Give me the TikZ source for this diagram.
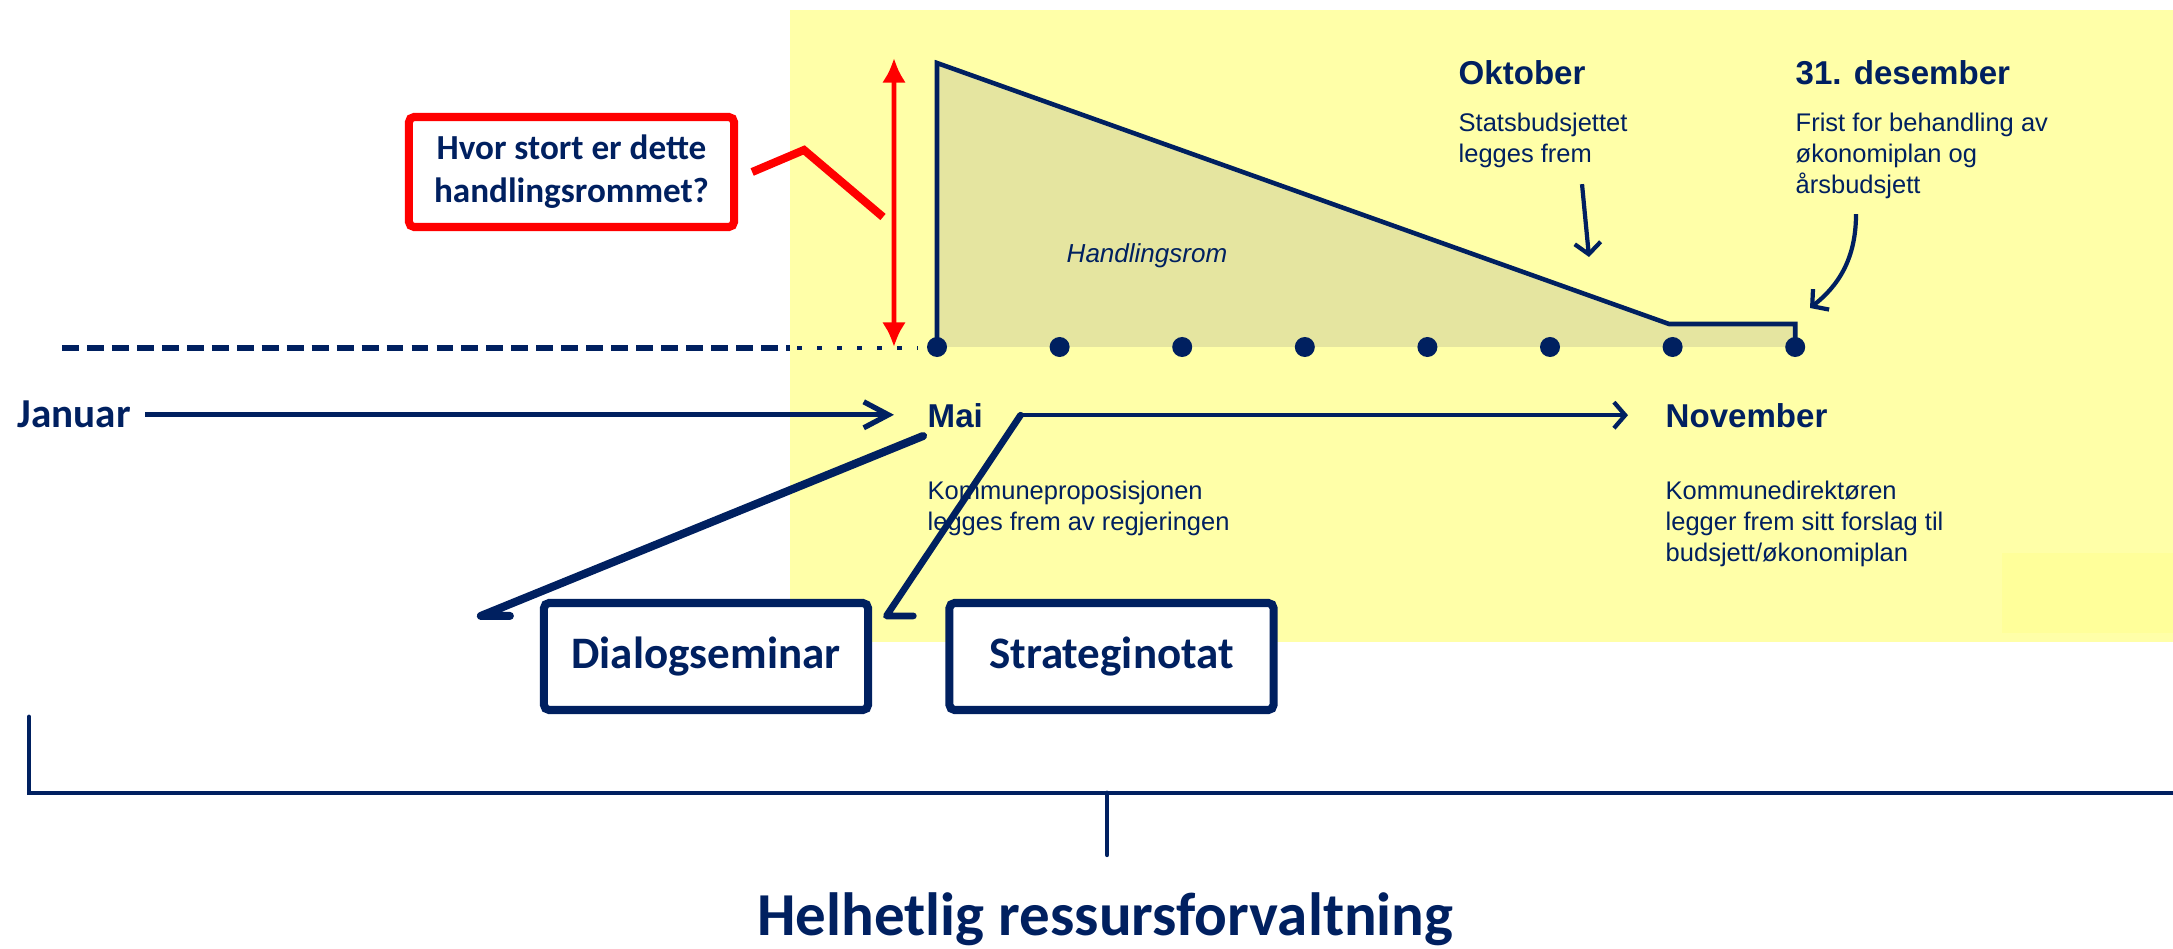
\documentclass[tikz,border=0pt]{standalone}
\usepackage{fontspec}
\setmainfont{Liberation Sans}
\newfontfamily\calibri{Carlito}
\usetikzlibrary{arrows.meta,positioning}
\definecolor{navy}{HTML}{002060}
\definecolor{lightyellow}{HTML}{FFFFA8}
\definecolor{patchyellow}{HTML}{FFFF9A}
\definecolor{olive}{HTML}{E5E5A0}

\begin{document}
\begin{tikzpicture}[x=0.01cm,y=-0.01cm,
            month/.style={font=\bfseries\fontsize{9.4}{11}\selectfont,text=navy,inner sep=0,anchor=base west},
            desc/.style={font=\fontsize{7.25}{8.8}\selectfont,text=navy,align=left,inner sep=0},
            boks/.style={draw=navy,line width=2.3pt,rounded corners=1.5pt,fill=white,text=navy,minimum width=3.24cm,minimum height=1.07cm,font=\calibri\bfseries\fontsize{12.8}{15}\selectfont},
            prikk/.style={circle,fill=navy,inner sep=0,minimum size=0.2cm},
            callout/.style={draw=navy,line join=round,line cap=round},
            timeline/.style={draw=navy,line width=1.5pt,-{Straight Barb[length=7pt,width=7.4pt]}},
            pointer/.style={draw=navy,line width=1.2pt,-{Straight Barb[length=3.2pt,width=7.4pt]}},
            redarrow/.style={draw=red,line width=1.4pt,{Latex[length=7pt,width=6.8pt]}-{Latex[length=7pt,width=6.8pt]}},
            bracket/.style={draw=navy,line width=1.4pt,line cap=round}
          ]
          \useasboundingbox (0,0) rectangle (2173,949);
          \fill[lightyellow] (790,10) rectangle (2173,642);
          \fill[patchyellow] (2002,553) rectangle (2173,633);

          %timeline
          \foreach \i in {0,...,7}
            \coordinate (t\i) at ({937+122.6*\i},347);
          \coordinate (peak) at (937,63);
          \coordinate (knee) at (1669,324);
          \fill[olive] (t0) -- (peak) -- (knee) -- (knee -| t7) -- (t7) -- cycle;
          \draw[navy,line width=1.3pt] (t0) -- (peak) -- (knee) -- (knee -| t7) -- (t7);
          \draw[navy,line width=1.5pt,dash pattern=on 4.8pt off 2.3pt] (62,348) -- (790,348);
          \draw[navy,line width=1.3pt,dash pattern=on 1.4pt off 4.3pt] (797,348) -- (918,348);
          \foreach \i in {0,...,7}
            \node[prikk] (d\i) at (t\i) {};
          \node[font=\itshape\fontsize{7.4}{9}\selectfont,text=navy,anchor=base west,inner sep=0] (rom) at (1066,263) {Handlingsrom};

          %question
          \node[draw=red,line width=2.3pt,rounded corners=1.5pt,fill=white,text=navy,align=center,minimum width=3.25cm,minimum height=1.1cm,font=\calibri\bfseries\fontsize{10}{12.2}\selectfont] (sporsmal) at (571.5,172) {Hvor stort er dette\\handlingsrommet?};
          \coordinate (knekk) at (804,150);
          \coordinate (pekepunkt) at (883,217);
          \draw[red,line width=2.3pt] ([xshift=0.14cm]sporsmal.east) -- (knekk) -- (pekepunkt);
          \draw[redarrow] ([shift={(-43,-5)}]peak) -- ([xshift=-0.43cm]t0);

          %months
          \node[font=\calibri\bfseries\fontsize{11.7}{14}\selectfont,text=navy,inner sep=0,anchor=base west] (jan) at (17,428) {Januar};
          \node[month] (mai) at (927,427) {Mai};
          \node[month] (nov) at (1665,427) {November};
          \node[month] (okt) at (1458,85) {Oktober};
          \node[month] (des) at (1795,85) {31. desember};

          %descriptions
          \node[desc,below right=0.52cm and 0cm of mai.south west] (maitxt) {Kommuneproposisjonen\\legges frem av regjeringen};
          \node[desc,below right=0.52cm and 0cm of nov.south west] (novtxt) {Kommunedirektøren\\legger frem sitt forslag til\\budsjett/økonomiplan};
          \node[desc,below right=0.26cm and 0cm of okt.south west] (okttxt) {Statsbudsjettet\\legges frem};
          \node[desc,below right=0.26cm and 0cm of des.south west] (destxt) {Frist for behandling av\\økonomiplan og\\årsbudsjett};

          %arrows
          \coordinate (maistart) at ([xshift=0.37cm]mai.east);
          \draw[timeline,shorten <=0.14cm,shorten >=0.33cm] (jan.east) -- (jan.east -| mai.west);
          \draw[pointer,shorten >=0.37cm] (maistart) -- (maistart -| nov.west);
          \coordinate (oktend) at (1589,257);
          \coordinate (desend) at (1810,308);
          \draw[pointer] ([shift={(124,16)}]okttxt.south west) -- (oktend);
          \draw[pointer] ([shift={(61,15)}]destxt.south west) .. controls +(0,45) and +(28,-22) .. (desend);

          %boxes
          \node[boks] (dia) at (706,656.5) {Dialogseminar};
          \node[boks] (strat) at (1111.5,656.5) {Strateginotat};
          \draw[callout,line width=2.3pt] ([shift={(-4,8)}]mai.south west) -- ([shift={(-59,17)}]dia.north west) -- ([shift={(-30,17)}]dia.north west);
          \draw[callout,line width=1.9pt] (maistart) -- ([shift={(-59,17)}]strat.north west) -- ([shift={(-32,17)}]strat.north west);

          %bracket
          \coordinate (hjorne) at (29,717);
          \coordinate (midt) at (1107,793);
          \node[font=\calibri\bfseries\fontsize{17.35}{20}\selectfont,text=navy,anchor=base] (tittel) at (1105.5,935) {Helhetlig ressursforvaltning};
          \draw[bracket] (hjorne) |- (2173,793);
          \draw[bracket,shorten >=0.25cm] (midt) -- (midt |- tittel.north);
      \end{tikzpicture}
\end{document}
